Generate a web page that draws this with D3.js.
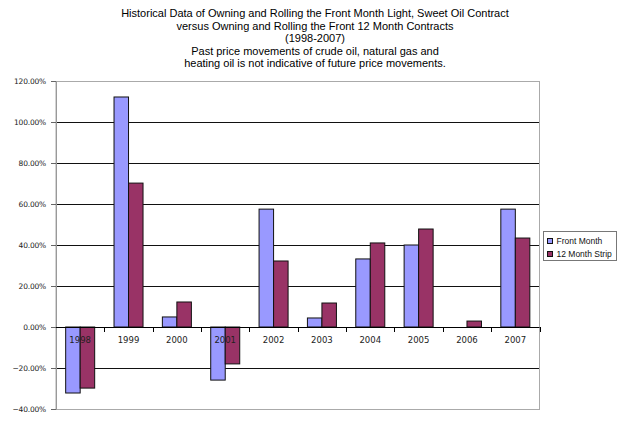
<!DOCTYPE html>
<html>
<head>
<meta charset="utf-8">
<script src="https://cdn.jsdelivr.net/npm/d3@7"></script>
<style>
  body { margin: 0; background: #fff; }
  svg { display: block; font-family: 'Liberation Sans', Arial, sans-serif; }
</style>
</head>
<body>
<svg width="625" height="428"></svg>
<script>
const years = ['1998', '1999', '2000', '2001', '2002', '2003', '2004', '2005', '2006', '2007']
const seriesNames = ['Front Month', '12 Month Strip']
const frontMonth = [-0.322, 1.122, 0.049, -0.259, 0.575, 0.044, 0.332, 0.40, 0.0, 0.575]
const twelveMonth = [-0.298, 0.702, 0.122, -0.18, 0.322, 0.117, 0.41, 0.478, 0.029, 0.434]
const yTicks = [-0.4, -0.2, 0, 0.2, 0.4, 0.6, 0.8, 1.0, 1.2]
const titleLines = [
  'Historical Data of Owning and Rolling the Front Month Light, Sweet Oil Contract',
  'versus Owning and Rolling the Front 12 Month Contracts',
  '(1998-2007)',
  'Past price movements of crude oil, natural gas and',
  'heating oil is not indicative of future price movements.',
]
const colors = ['#9999ff', '#993366']

const svg = d3.select('svg')
const plotLeft = 56, plotRight = 539.5, plotTop = 81, plotBottom = 409

const x = d3.scaleBand().domain(years).range([plotLeft, plotRight])
const xs = d3.scaleBand().domain(seriesNames).range([x.bandwidth() * 0.2, x.bandwidth() * 0.8])
const y = d3.scaleLinear().domain([-0.4, 1.2]).range([plotBottom, plotTop])

// title
svg.append('g')
  .selectAll('text')
  .data(titleLines)
  .enter()
  .append('text')
  .attr('x', 315)
  .attr('y', (d, i) => 17 + i * 12.6)
  .attr('text-anchor', 'middle')
  .attr('font-size', '11px')
  .attr('fill', '#000')
  .text((d) => d)

// gridlines
svg.append('g')
  .selectAll('line')
  .data(yTicks.filter((t) => t > -0.4 && t < 1.2 && t !== 0))
  .enter()
  .append('line')
  .attr('x1', plotLeft).attr('x2', plotRight)
  .attr('y1', (d) => Math.round(y(d)) + 0.5)
  .attr('y2', (d) => Math.round(y(d)) + 0.5)
  .attr('stroke', '#111')

// plot border (gray)
svg.append('rect')
  .attr('x', plotLeft).attr('y', Math.round(plotTop) + 0.5)
  .attr('width', plotRight - plotLeft).attr('height', Math.round(plotBottom) - Math.round(plotTop))
  .attr('fill', 'none')
  .attr('stroke', '#aaa')

// bars
const data = years.map((yr, i) => ({ year: yr, values: [frontMonth[i], twelveMonth[i]] }))
const groups = svg.append('g')
  .selectAll('g')
  .data(data)
  .enter()
  .append('g')
  .attr('transform', (d) => `translate(${x(d.year)},0)`)

groups.selectAll('rect')
  .data((d) => d.values.map((v, j) => ({ name: seriesNames[j], v: v, j: j })).filter((d) => d.v !== 0))
  .enter()
  .append('rect')
  .attr('x', (d) => xs(d.name))
  .attr('width', xs.bandwidth())
  .attr('y', (d) => Math.min(y(d.v), y(0)))
  .attr('height', (d) => Math.abs(y(d.v) - y(0)))
  .attr('fill', (d) => colors[d.j])
  .attr('stroke', '#111')
  .attr('stroke-width', 1)

// y axis
const yAxis = svg.append('g')
  .attr('transform', `translate(${plotLeft},0)`)
  .call(d3.axisLeft(y).tickValues(yTicks).tickFormat(d3.format('.2%')).tickSize(5).tickPadding(5))
yAxis.select('.domain').attr('stroke', '#999')
yAxis.selectAll('.tick line').attr('stroke', '#666')
yAxis.selectAll('text').attr('font-size', '7.5px').attr('fill', '#222')
  .style('font-family', "'DejaVu Sans', sans-serif").attr('letter-spacing', '-0.2px')

// zero line and category ticks
svg.append('line')
  .attr('x1', plotLeft).attr('x2', plotRight)
  .attr('y1', Math.round(y(0)) + 0.5).attr('y2', Math.round(y(0)) + 0.5)
  .attr('stroke', '#000')
svg.append('g')
  .selectAll('line')
  .data(years.slice(1).concat(['end']))
  .enter()
  .append('line')
  .attr('x1', (d) => Math.round(d === 'end' ? plotRight : x(d)) + 0.5)
  .attr('x2', (d) => Math.round(d === 'end' ? plotRight : x(d)) + 0.5)
  .attr('y1', Math.round(y(0)))
  .attr('y2', Math.round(y(0)) + 5)
  .attr('stroke', '#000')

svg.append('g')
  .selectAll('text')
  .data(years)
  .enter()
  .append('text')
  .attr('x', (d) => x(d) + x.bandwidth() / 2)
  .attr('y', y(0) + 16)
  .attr('text-anchor', 'middle')
  .attr('font-size', '8.5px')
  .attr('fill', '#222')
  .style('font-family', "'DejaVu Sans', sans-serif")
  .text((d) => d)

// legend
const legend = svg.append('g').attr('transform', 'translate(543.5,231.5)')
legend.append('rect')
  .attr('width', 73).attr('height', 29)
  .attr('fill', '#fff').attr('stroke', '#777')
const entry = legend.selectAll('g')
  .data(seriesNames)
  .enter()
  .append('g')
  .attr('transform', (d, i) => `translate(4,${7 + i * 13})`)
entry.append('rect')
  .attr('width', 5).attr('height', 5)
  .attr('fill', (d, i) => colors[i])
  .attr('stroke', '#111')
entry.append('text')
  .attr('x', 9).attr('y', 5.5)
  .attr('font-size', '8.5px')
  .attr('fill', '#111')
  .text((d) => d)
</script>
</body>
</html>
